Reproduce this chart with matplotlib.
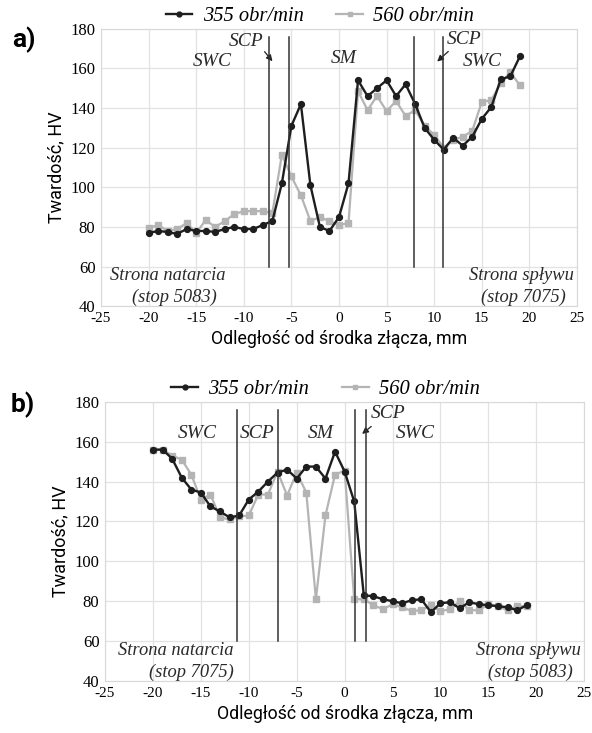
import numpy as np
import matplotlib
matplotlib.use('Agg')
import matplotlib.pyplot as plt

plt.rcParams['axes.unicode_minus'] = False

# odległość od środka złącza, mm
x_a = np.arange(-20, 20)
x_b = np.arange(-20, 20)

# a) - 355 obr/min and 560 obr/min
hv_a_355 = [77, 78, 77.5, 76.5, 79, 78, 78, 77.5, 79, 80,
            79, 79, 81, 83, 102, 131, 142, 101, 80, 78,
            85, 102, 154, 146, 150, 154, 146, 152, 142, 130,
            124, 119, 125, 121, 125.5, 134.5, 140.5, 154.5, 156, 166]
hv_a_560 = [79.5, 81, 78, 79, 82, 77, 83.5, 80, 83, 86.5,
            88, 88, 88, 87, 116.5, 105.5, 96, 83, 85, 83,
            81, 82, 148.5, 139, 146, 138.5, 143.5, 136, 139, 131,
            126.5, 120, 124, 125.5, 128.5, 143, 144, 152.5, 158, 151.5]

# b)
hv_b_355 = [156, 156, 151.5, 142, 136, 134.5, 127.5, 125, 122, 123,
            131, 135, 140, 144.5, 146, 141.5, 147.5, 147.5, 141.5, 155,
            145, 130, 83, 82.5, 81, 80, 79, 80.5, 81, 74.5,
            79, 79.5, 76.5, 79.5, 78.5, 78, 77.5, 77, 75.5, 78]
hv_b_560 = [156, 156, 153, 151, 143.5, 131, 133.5, 122, 121, 122.5,
            123, 133.5, 133.5, 145, 133, 144.5, 134.5, 81, 123, 143.5,
            145.5, 81, 81, 78, 76, 78.5, 77, 75, 75.5, 78,
            75, 76, 80, 75.5, 75.5, 78.5, 77.5, 75.5, 77.5, 77.5]

zones_a = [-7.4, -5.3, 7.9, 10.9]
zones_b = [-11.2, -7.0, 1.1, 2.2]

serif = 'Liberation Serif'
sans = 'Roboto'

fig = plt.figure(figsize=(5.92, 7.33), dpi=100)
ax_a = fig.add_axes([0.1706, 0.5821, 0.804, 0.3787])
ax_b = fig.add_axes([0.1774, 0.0709, 0.8095, 0.381])


def style_axes(ax):
    ax.set_xlim(-25, 25)
    ax.set_ylim(40, 180)
    ax.set_xticks(np.arange(-25, 26, 5))
    ax.set_yticks(np.arange(40, 181, 20))
    ax.grid(True, color='#e2e2e2', lw=0.9)
    ax.set_axisbelow(True)
    for s in ax.spines.values():
        s.set_color('#d8d8d8')
    ax.tick_params(axis='x', length=0, pad=4, labelsize=11)
    ax.tick_params(axis='y', length=0, pad=4, labelsize=12)
    for lab in ax.get_xticklabels() + ax.get_yticklabels():
        lab.set_fontfamily(serif)
    ax.set_xlabel('Odległość od środka złącza, mm', fontfamily=sans,
                  fontsize=12.8, labelpad=4)
    ax.set_ylabel('Twardość, HV', fontfamily=sans, fontsize=13, labelpad=4)


def plot_series(ax, x, y1, y2, zones):
    l1, = ax.plot(x, y1, color='#1e1e1e', lw=1.7, marker='o', ms=4.2,
                  zorder=4, label='355 obr/min')
    l2, = ax.plot(x, y2, color='#b4b4b4', lw=1.6, marker='s', ms=4.6,
                  zorder=3, label='560 obr/min')
    for z in zones:
        ax.plot([z, z], [60, 176], color='#333333', lw=1.1, zorder=5)
    leg = ax.legend(handles=[l1, l2], loc='center',
                    bbox_to_anchor=(0.46, 1.043), ncol=2, frameon=False,
                    prop={'family': serif, 'style': 'italic', 'size': 14.8},
                    handlelength=1.3, columnspacing=1.6, handletextpad=0.5,
                    borderaxespad=0.0)
    for h in leg.legend_handles:
        h.set_markersize(3.5)


def txt(ax, x, y, s, size=14, **kw):
    ax.text(x, y, s, fontfamily=serif, style='italic', fontsize=size,
            color='#2a2a2a', **kw)


# panel a
style_axes(ax_a)
plot_series(ax_a, x_a, hv_a_355, hv_a_560, zones_a)
txt(ax_a, -9.8, 173.7, 'SCP', ha='center', va='center')
txt(ax_a, -13.3, 163.6, 'SWC', ha='center', va='center')
txt(ax_a, 0.5, 164.8, 'SM', ha='center', va='center')
txt(ax_a, 13.1, 174.6, 'SCP', ha='center', va='center')
txt(ax_a, 15.0, 163.6, 'SWC', ha='center', va='center')
ax_a.annotate('', xy=(-6.8, 162.5), xytext=(-8.0, 169.5),
              arrowprops=dict(arrowstyle='-|>', color='#222222', lw=0.9,
                              mutation_scale=9))
ax_a.annotate('', xy=(10.1, 162.5), xytext=(11.7, 169.5),
              arrowprops=dict(arrowstyle='-|>', color='#222222', lw=0.9,
                              mutation_scale=9))
txt(ax_a, -18.0, 55.5, 'Strona natarcia', size=13.3, ha='center', va='center')
txt(ax_a, -17.3, 44.5, '(stop 5083)', size=13.3, ha='center', va='center')
txt(ax_a, 24.7, 55.5, 'Strona spływu', size=13.3, ha='right', va='center')
txt(ax_a, 23.8, 44.5, '(stop 7075)', size=13.3, ha='right', va='center')

# panel b
style_axes(ax_b)
plot_series(ax_b, x_b, hv_b_355, hv_b_560, zones_b)
txt(ax_b, -15.4, 164.2, 'SWC', ha='center', va='center')
txt(ax_b, -9.1, 164.2, 'SCP', ha='center', va='center')
txt(ax_b, -2.5, 164.2, 'SM', ha='center', va='center')
txt(ax_b, 4.5, 174.0, 'SCP', ha='center', va='center')
txt(ax_b, 7.4, 164.2, 'SWC', ha='center', va='center')
ax_b.annotate('', xy=(1.6, 163.0), xytext=(3.0, 168.5),
              arrowprops=dict(arrowstyle='-|>', color='#222222', lw=0.9,
                              mutation_scale=9))
txt(ax_b, -17.6, 55.5, 'Strona natarcia', size=13.3, ha='center', va='center')
txt(ax_b, -16.0, 44.5, '(stop 7075)', size=13.3, ha='center', va='center')
txt(ax_b, 24.7, 55.5, 'Strona spływu', size=13.3, ha='right', va='center')
txt(ax_b, 23.8, 44.5, '(stop 5083)', size=13.3, ha='right', va='center')

fig.text(0.02, 0.935, 'a)', fontfamily=sans, fontweight='bold', fontsize=19)
fig.text(0.018, 0.437, 'b)', fontfamily=sans, fontweight='bold', fontsize=19)

fig.savefig('out.png', dpi=100, facecolor='white')
